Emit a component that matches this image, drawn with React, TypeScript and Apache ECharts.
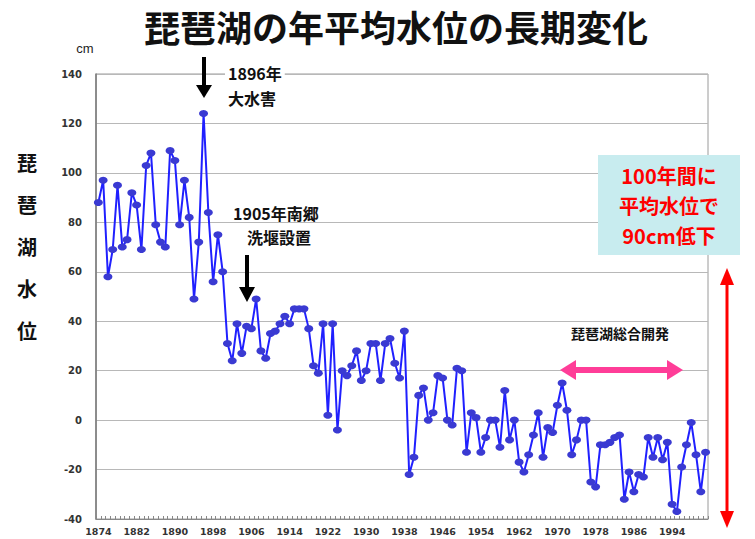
import React, { useEffect, useRef } from "react";
import * as echarts from "echarts";

const years: string[] = [];
for (let y = 1874; y <= 2001; y++) years.push(String(y));

const levels: number[] = [
  88, 97, 58, 69, 95, 70, 73, 92, 87, 69,
  103, 108, 79, 72, 70, 109, 105, 79, 97, 82,
  49, 72, 124, 84, 56, 75, 60, 31, 24, 39,
  27, 38, 37, 49, 28, 25, 35, 36, 39, 42,
  39, 45, 45, 45, 37, 22, 19, 39, 2, 39,
  -4, 20, 18, 22, 28, 16, 20, 31, 31, 16,
  31, 33, 23, 17, 36, -22, -15, 10, 13, 0,
  3, 18, 17, 0, -2, 21, 20, -13, 3, 1,
  -13, -7, 0, 0, -11, 12, -8, 0, -17, -21,
  -14, -6, 3, -15, -3, -5, 6, 15, 4, -14,
  -8, 0, 0, -25, -27, -10, -10, -9, -7, -6,
  -32, -21, -29, -22, -23, -7, -15, -7, -16, -9,
  -34, -37, -19, -10, -1, -14, -29, -13,
];

const titleText = "琵琶湖の年平均水位の長期変化";
const yAxisName = "琵\n琶\n湖\n水\n位";
const unitText = "cm";

const jp = "'Noto Sans CJK JP', sans-serif";

export default function App() {
  const ref = useRef<HTMLDivElement>(null);
  useEffect(() => {
    if (!ref.current) return;
    const chart = echarts.init(ref.current, null, { renderer: "svg" });
    const option: any = {
      animation: false,
      backgroundColor: "#ffffff",
      grid: {
        left: 96,
        right: 47,
        top: 74,
        bottom: 20,
        show: true,
        borderColor: "#9a9a9a",
        borderWidth: 1,
      },
      xAxis: {
        type: "category",
        data: years,
        boundaryGap: true,
        axisLine: { onZero: false, lineStyle: { color: "#888", width: 1 } },
        axisTick: { show: true, inside: true, length: 3, interval: 0, lineStyle: { color: "#888" } },
        axisLabel: {
          interval: 7,
          fontSize: 9.5,
          fontWeight: "bold",
          color: "#333",
          fontFamily: "'DejaVu Sans', sans-serif",
          margin: 7,
        },
        splitLine: { show: false },
      },
      yAxis: {
        type: "value",
        min: -40,
        max: 140,
        interval: 20,
        axisLine: { show: true, lineStyle: { color: "#777", width: 1.5 } },
        axisTick: { show: false },
        axisLabel: {
          fontSize: 10,
          fontWeight: "bold",
          color: "#333",
          fontFamily: "'DejaVu Sans', sans-serif",
          margin: 14,
        },
        splitLine: { lineStyle: { color: "#b8b8b8", width: 1 } },
      },
      series: [
        {
          type: "line",
          data: levels,
          symbol: "circle",
          symbolSize: [9, 7],
          showSymbol: true,
          showAllSymbol: true,
          lineStyle: { color: "#2020ff", width: 2 },
          itemStyle: { color: "#3a3ad2" },
          z: 5,
        },
      ],
      graphic: [
        {
          type: "text",
          x: 396,
          y: 26,
          style: {
            text: titleText,
            font: `bold 36px ${jp}`,
            fill: "#111",
            align: "center",
            verticalAlign: "middle",
          },
        },
        {
          type: "text",
          x: 85,
          y: 48,
          style: {
            text: unitText,
            font: "13px 'Liberation Sans', sans-serif",
            fill: "#222",
            align: "center",
            verticalAlign: "middle",
          },
        },
        {
          type: "text",
          x: 27,
          y: 246,
          style: {
            text: yAxisName,
            font: `bold 20px ${jp}`,
            fill: "#111",
            align: "center",
            verticalAlign: "middle",
            lineHeight: 42,
          },
        },
        // 1896 annotation
        {
          type: "text",
          x: 225,
          y: 73,
          z: 10,
          style: {
            text: "1896年",
            font: `bold 16px ${jp}`,
            fill: "#111",
            verticalAlign: "middle",
            backgroundColor: "#fff",
            padding: [0, 3],
          },
        },
        {
          type: "text",
          x: 228,
          y: 98,
          z: 10,
          style: {
            text: "大水害",
            font: `bold 16px ${jp}`,
            fill: "#111",
            verticalAlign: "middle",
          },
        },
        { type: "rect", z: 10, shape: { x: 202, y: 57, width: 4, height: 30 }, style: { fill: "#000" } },
        { type: "polygon", z: 10, shape: { points: [[196, 85], [212, 85], [204, 98]] }, style: { fill: "#000" } },
        // 1905 annotation
        {
          type: "text",
          x: 230,
          y: 213,
          z: 10,
          style: {
            text: "1905年南郷",
            font: `bold 16px ${jp}`,
            fill: "#111",
            verticalAlign: "middle",
            backgroundColor: "#fff",
            padding: [0, 3],
          },
        },
        {
          type: "text",
          x: 247,
          y: 237,
          z: 10,
          style: {
            text: "洗堰設置",
            font: `bold 16px ${jp}`,
            fill: "#111",
            verticalAlign: "middle",
          },
        },
        { type: "rect", z: 10, shape: { x: 245, y: 255, width: 4, height: 34 }, style: { fill: "#000" } },
        { type: "polygon", z: 10, shape: { points: [[239, 287], [255, 287], [247, 302]] }, style: { fill: "#000" } },
        // right box
        {
          type: "rect",
          z: 10,
          shape: { x: 598, y: 155, width: 142, height: 100 },
          style: { fill: "#c8ecef" },
        },
        {
          type: "text",
          x: 669,
          y: 205,
          z: 11,
          style: {
            text: "100年間に\n平均水位で\n90cm低下",
            font: `bold 20px ${jp}`,
            fill: "#ff0000",
            align: "center",
            verticalAlign: "middle",
            lineHeight: 30,
          },
        },
        // red vertical double arrow
        { type: "rect", z: 10, shape: { x: 725.5, y: 282, width: 3, height: 232 }, style: { fill: "#ff0000" } },
        { type: "polygon", z: 10, shape: { points: [[720, 285], [734, 285], [727, 268]] }, style: { fill: "#ff0000" } },
        { type: "polygon", z: 10, shape: { points: [[720, 511], [734, 511], [727, 528]] }, style: { fill: "#ff0000" } },
        // 琵琶湖総合開発
        {
          type: "text",
          x: 620,
          y: 333,
          z: 10,
          style: {
            text: "琵琶湖総合開発",
            font: `bold 14px ${jp}`,
            fill: "#111",
            align: "center",
            verticalAlign: "middle",
            backgroundColor: "#fff",
          },
        },
        { type: "rect", z: 10, shape: { x: 572, y: 367, width: 98, height: 6 }, style: { fill: "#ff3d98" } },
        { type: "polygon", z: 10, shape: { points: [[576, 360], [576, 380], [560, 370]] }, style: { fill: "#ff3d98" } },
        { type: "polygon", z: 10, shape: { points: [[667, 360], [667, 380], [683, 370]] }, style: { fill: "#ff3d98" } },
      ],
    };
    chart.setOption(option);
    return () => chart.dispose();
  }, []);
  return (
    <div
      ref={ref}
      style={{ position: "fixed", left: 0, top: 0, width: 755, height: 539 }}
    />
  );
}
